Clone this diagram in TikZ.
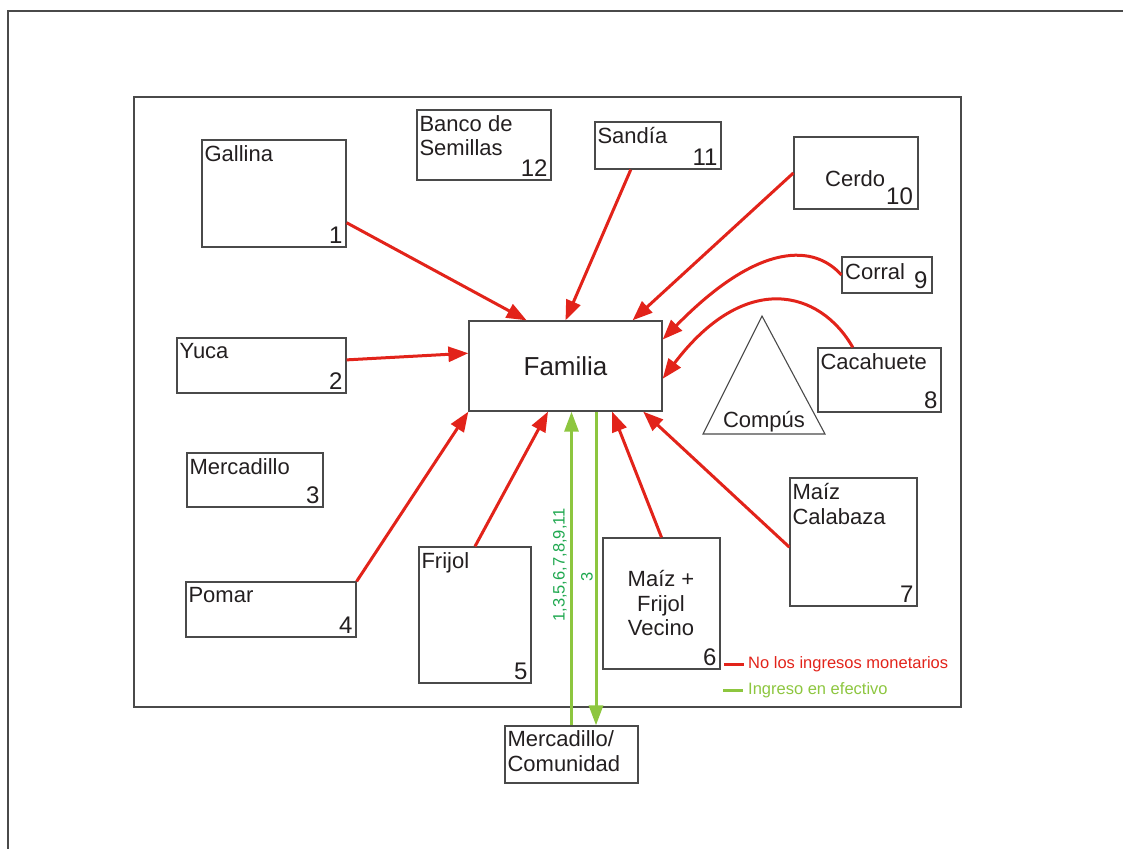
\documentclass[tikz,border=0pt]{standalone}
\usepackage{fontspec}
\setmainfont{Liberation Sans}
\usetikzlibrary{arrows.meta,calc}
\definecolor{frame}{HTML}{4A4A4A}
\definecolor{redflow}{HTML}{E2231A}
\definecolor{greenflow}{HTML}{8DC63F}
\definecolor{greentext}{HTML}{1FA84F}
\definecolor{inktext}{HTML}{231F20}
\newcommand{\lblfont}{\fontsize{22}{24.5}\selectfont}
\newcommand{\numfont}{\fontsize{24}{28}\selectfont}

\begin{document}
\begin{tikzpicture}[x=1pt,y=-1pt,
  box/.style={draw=frame, line width=1.3pt, rectangle, inner sep=0pt},
  lbl/.style={anchor=north west, inner xsep=3pt, inner ysep=6pt, align=left, font=\lblfont, text=inktext},
  num/.style={anchor=south east, inner sep=4pt, font=\numfont, text=inktext},
  free/.style={inner sep=0pt, text=inktext},
  money/.style={draw=redflow, line width=3pt, -{Triangle[length=20pt,width=15pt]}},
  cash/.style={draw=greenflow, line width=3pt, -{Triangle[length=20pt,width=14pt]}},
  legendline/.style={line width=3pt},
]
\useasboundingbox (0,0) rectangle (1123,849);

% page frame and farm boundary
\draw[frame, line width=1.3pt] (1123,11) -- (8,11) -- (8,849);
\draw[frame, line width=1.3pt] (134,97) rectangle (961,707);

% central household
\node[box, minimum width=193pt, minimum height=90pt, font=\fontsize{26}{30}\selectfont, text=inktext] (fa) at (565.5,366) {Familia};

% production units
\node[box, minimum width=144pt, minimum height=107pt] (g) at (274,193.5) {};
\node[lbl] (gT) at (g.north west) {Gallina};
\node[num] (gN) at (g.south east) {1};

\node[box, minimum width=169pt, minimum height=55pt] (yu) at (261.5,365.5) {};
\node[lbl] (yuT) at (yu.north west) {Yuca};
\node[num] (yuN) at (yu.south east) {2};

\node[box, minimum width=136pt, minimum height=54pt] (me) at (255,480) {};
\node[lbl] (meT) at (me.north west) {Mercadillo};
\node[num] (meN) at (me.south east) {3};

\node[box, minimum width=170pt, minimum height=55pt] (po) at (271,609.5) {};
\node[lbl] (poT) at (po.north west) {Pomar};
\node[num] (poN) at (po.south east) {4};

\node[box, minimum width=112pt, minimum height=136pt] (fr) at (475,615) {};
\node[lbl] (frT) at (fr.north west) {Frijol};
\node[num] (frN) at (fr.south east) {5};

\node[box, minimum width=117pt, minimum height=131pt] (mf) at (661.5,603.5) {};
\node[free, align=center, font=\lblfont] (mfT) at (661,603) {Maíz +\\Frijol\\Vecino};
\node[num] (mfN) at (mf.south east) {6};

\node[box, minimum width=127pt, minimum height=128pt] (mc) at (853.5,542) {};
\node[lbl] (mcT) at (mc.north west) {Maíz\\Calabaza};
\node[num] (mcN) at (mc.south east) {7};

\node[box, minimum width=123pt, minimum height=64pt] (ca) at (879.5,380) {};
\node[lbl] (caT) at (ca.north west) {Cacahuete};
\node[num] (caN) at (ca.south east) {8};

\node[box, minimum width=90pt, minimum height=36pt] (co) at (887,275) {};
\node[free, anchor=base west, font=\lblfont] (coT) at (845,279) {Corral};
\node[free, anchor=base west, font=\numfont] (coN) at (914,288) {9};

\node[box, minimum width=124pt, minimum height=72pt] (ce) at (856,173) {};
\node[free, anchor=base west, font=\lblfont] (ceT) at (825,186) {Cerdo};
\node[free, anchor=base west, font=\numfont] (ceN) at (886,204) {10};

\node[box, minimum width=126pt, minimum height=47pt] (sa) at (658,145.5) {};
\node[lbl] (saT) at (sa.north west) {Sandía};
\node[num] (saN) at (sa.south east) {11};

\node[box, minimum width=134pt, minimum height=70pt] (ba) at (484,145) {};
\node[lbl] (baT) at (ba.north west) {Banco de\\Semillas};
\node[num] (baN) at (ba.south east) {12};

% compost heap
\draw[frame, line width=1.1pt] (762,316) -- (825,434) -- (703,434) -- cycle;
\node[free, anchor=base, font=\lblfont] (cp) at (764,427) {Compús};

% outside market
\node[box, minimum width=133pt, minimum height=57pt] (mk) at (571.5,754.5) {};
\node[lbl, inner ysep=5pt] (mkT) at (mk.north west) {Mercadillo/\\Comunidad};

% non-monetary flows into the household
\draw[money] ($(g.north east)!0.77!(g.south east)$) -- ($(fa.north west)!0.30!(fa.north east)$);
\draw[money] ($(yu.north east)!0.4!(yu.south east)$) -- ($(fa.north west)!0.36!(fa.south west)$);
\draw[money] (po.north east) -- (fa.south west);
\draw[money] (fr.north) -- ($(fa.south west)!0.41!(fa.south east)$);
\draw[money] (mf.north) -- ($(fa.south west)!0.74!(fa.south east)$);
\draw[money] ($(mc.north west)!0.54!(mc.south west)$) -- ($(fa.south west)!0.90!(fa.south east)$);
\draw[money] ($(ca.north west)!0.285!(ca.north east)$) .. controls (820,290) and (745,270) .. ($(fa.north east)!0.64!(fa.south east)$);
\draw[money] (co.west) .. controls (815,245) and (760,240) .. ($(fa.north east)!0.21!(fa.south east)$);
\draw[money] (ce.west) -- ($(fa.north west)!0.845!(fa.north east)$);
\draw[money] ($(sa.south west)!0.286!(sa.south east)$) -- (fa.north);

% cash flows with the market
\draw[cash] (mk.north) -- (mk.north |- fa.south);
\draw[cash] ([xshift=24.5pt]mk.north |- fa.south) -- ([xshift=24.5pt]mk.north);
\node[free, rotate=90, text=greentext, font=\fontsize{16.5}{18}\selectfont] (inA) at (560,565) {1,3,5,6,7,8,9,11};
\node[free, rotate=90, text=greentext, font=\fontsize{16.5}{18}\selectfont] (outA) at (587,577) {3};

% legend
\coordinate (r0) at (724,664);
\coordinate (r1) at (744,664);
\coordinate (v0) at (723,690);
\coordinate (v1) at (743,690);
\draw[legendline, draw=redflow] (r0) -- (r1);
\draw[legendline, draw=greenflow] (v0) -- (v1);
\node[free, anchor=west, text=redflow, font=\fontsize{16.5}{19}\selectfont] (lr) at (748,664) {No los ingresos monetarios};
\node[free, anchor=west, text=greenflow, font=\fontsize{16.5}{19}\selectfont] (lv) at (748,690) {Ingreso en efectivo};
\end{tikzpicture}
\end{document}
